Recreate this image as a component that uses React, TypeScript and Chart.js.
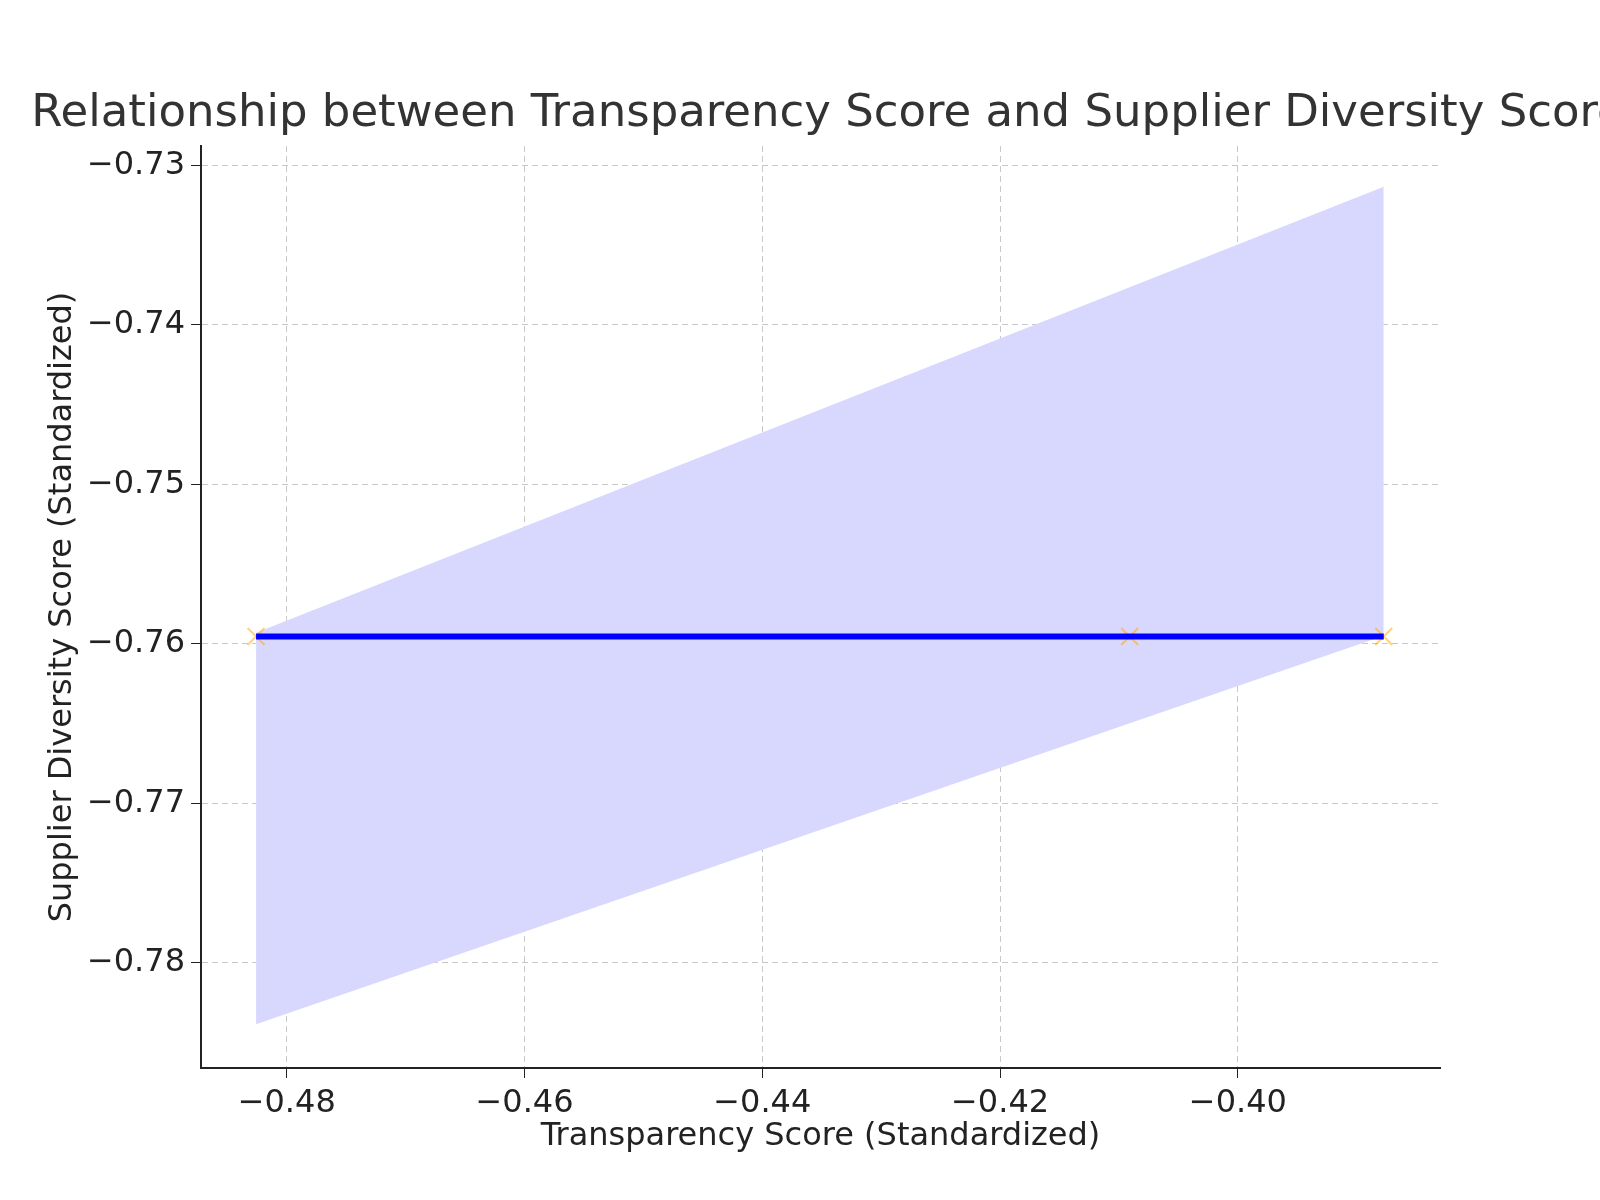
import React, { useEffect, useRef } from "react";
import { Chart, registerables } from "chart.js";
Chart.register(...registerables);

const fitX = [-0.48258, -0.38773];
const fitY = [-0.75954, -0.75954];
const bandUpper = [-0.7593, -0.73134];
const bandLower = [-0.78384, -0.7595];
const pointsX = [-0.48258, -0.4091, -0.38773];
const pointsY = [-0.75954, -0.75954, -0.75954];
const titleText = "Relationship between Transparency Score and Supplier Diversity Score";

const fmt = (v: number, d: number) => (v < 0 ? "\u2212" : "") + Math.abs(v).toFixed(d);

const titlePlugin = {
  id: "manualTitle",
  afterDraw(chart: any) {
    const ctx = chart.ctx;
    ctx.save();
    ctx.font = "45px 'DejaVu Sans'";
    ctx.fillStyle = "#333";
    ctx.textAlign = "center";
    ctx.textBaseline = "alphabetic";
    ctx.fillText(titleText, 828, 126);
    ctx.restore();
  },
};

export default function App() {
  const ref = useRef<HTMLCanvasElement>(null);
  useEffect(() => {
    const font = { family: "DejaVu Sans", size: 32 };
    const chart = new Chart(ref.current!, {
      type: "scatter",
      plugins: [titlePlugin],
      data: {
        datasets: [
          {
            type: "line",
            data: fitX.map((x, i) => ({ x, y: bandLower[i] })),
            borderWidth: 0,
            pointRadius: 0,
            fill: false,
            order: 3,
          },
          {
            type: "line",
            data: fitX.map((x, i) => ({ x, y: bandUpper[i] })),
            borderWidth: 0,
            pointRadius: 0,
            backgroundColor: "rgba(216,216,255,1)",
            fill: "-1",
            order: 3,
          },
          {
            type: "line",
            data: fitX.map((x, i) => ({ x, y: fitY[i] })),
            borderColor: "#0000ff",
            borderWidth: 6,
            pointRadius: 0,
            fill: false,
            order: 1,
          },
          {
            data: pointsX.map((x, i) => ({ x, y: pointsY[i] })),
            pointStyle: "cross",
            rotation: 45,
            pointRadius: 12,
            borderColor: "rgba(255,165,0,0.5)",
            borderWidth: 2,
            order: 2,
          } as any,
        ],
      },
      options: {
        animation: false,
        responsive: false,
        layout: { padding: { right: 160, left: 43, top: 146, bottom: 44 } },
        plugins: {
          legend: { display: false },
          tooltip: { enabled: false },
          title: { display: false },
        },
        scales: {
          x: {
            type: "linear",
            min: -0.48721,
            max: -0.383,
            afterBuildTicks: (s: any) => {
              s.ticks = [-0.48, -0.46, -0.44, -0.42, -0.4].map((v) => ({ value: v }));
            },
            afterFit: (s: any) => { s.height = 88; },
            ticks: { color: "#222", font, callback: (v: any) => fmt(Number(v), 2), padding: 6 },
            grid: { color: "#c8c8c8", tickColor: "#222", tickLength: 10 },
            border: { color: "#222", width: 2, dash: [6, 4] } as any,
            title: { display: true, text: "Transparency Score (Standardized)", color: "#222", font, padding: 0 },
          },
          y: {
            min: -0.78659,
            max: -0.72879,
            afterBuildTicks: (s: any) => {
              s.ticks = [-0.78, -0.77, -0.76, -0.75, -0.74, -0.73].map((v) => ({ value: v }));
            },
            afterFit: (s: any) => { s.width = 158; },
            ticks: { color: "#222", font, callback: (v: any) => fmt(Number(v), 2), padding: 6 },
            grid: { color: "#c8c8c8", tickColor: "#222", tickLength: 10 },
            border: { color: "#222", width: 2, dash: [6, 4] } as any,
            title: { display: true, text: "Supplier Diversity Score (Standardized)", color: "#222", font, padding: 0 },
          },
        },
      },
    });
    return () => chart.destroy();
  }, []);
  return (
    <canvas
      ref={ref}
      width={1600}
      height={1200}
      style={{ position: "fixed", left: 0, top: 0, display: "block", background: "#fff" }}
    />
  );
}
